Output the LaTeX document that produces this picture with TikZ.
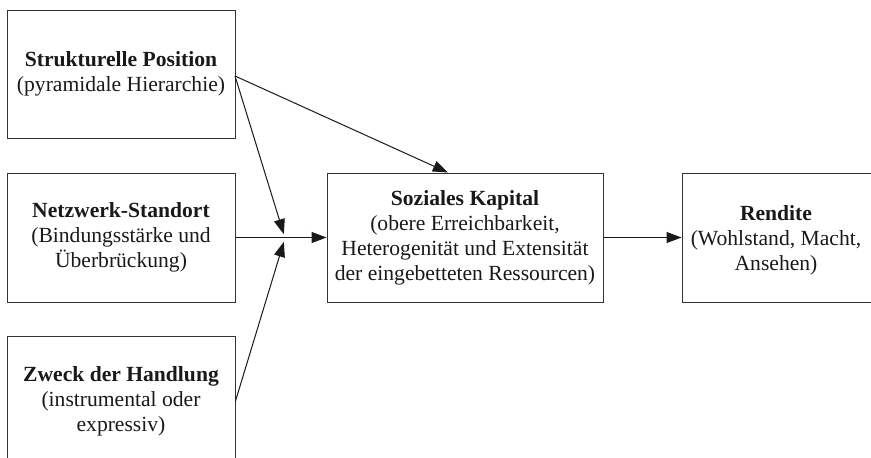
\documentclass[tikz,border=0pt]{standalone}
\usepackage{fontspec}
\setmainfont{Liberation Serif}
\usetikzlibrary{arrows.meta,calc}
\begin{document}
\begin{tikzpicture}[x=1pt,y=-1pt,
  box/.style={draw=black!80, line width=1pt, minimum width=228pt, minimum height=128pt,
    align=center, inner sep=0pt, text=black!90,
    font=\fontsize{21.6}{25}\selectfont},
  link/.style={line width=1pt, black!90},
  tip/.style={-{Triangle[length=15pt,width=11pt]}}]
  \useasboundingbox (0,0) rectangle (871,458);
  \clip (0,0) rectangle (871,458);
  % determinants of social capital
  \node[box] (pos) at (121,74) {\textbf{Strukturelle Position}\\(pyramidale Hierarchie)};
  \node[box, minimum height=129pt] (net) at (121,237.5) {\textbf{Netzwerk-Standort}\\(Bindungsstärke und\\Überbrückung)};
  \node[box, minimum height=130pt] (zweck) at (121,401) {\textbf{Zweck der Handlung}\\(instrumental oder\\expressiv)};
  % social capital and returns
  \node[box, minimum width=276pt, minimum height=129pt] (kap) at (465,237.5)
    {\textbf{Soziales Kapital}\\(obere Erreichbarkeit,\\Heterogenität und Extensität\\der eingebetteten Ressourcen)};
  \node[box, minimum width=194pt, minimum height=129pt] (ren) at (779,237.5) {};
  \node[align=center, inner sep=0pt, text=black!90, font=\fontsize{21.6}{25}\selectfont] (rentext) at (776,240)
    {\textbf{Rendite}\\(Wohlstand, Macht,\\Ansehen)};
  % connectors
  \coordinate (join) at (285,238);
  \coordinate (pospt) at (235,76);
  \coordinate (kaptop) at ($(kap.north west)!0.438!(kap.north east)$);
  \draw[link, tip] (pospt) -- (kaptop);
  \draw[link, tip, shorten >=4pt] (pospt) -- (join);
  \draw[link, tip, shorten >=4pt] (zweck.east) -- (join);
  \draw[link, tip] (net.east) -- (kap.west);
  \draw[link, tip] (kap.east) -- (ren.west);
\end{tikzpicture}
\end{document}
